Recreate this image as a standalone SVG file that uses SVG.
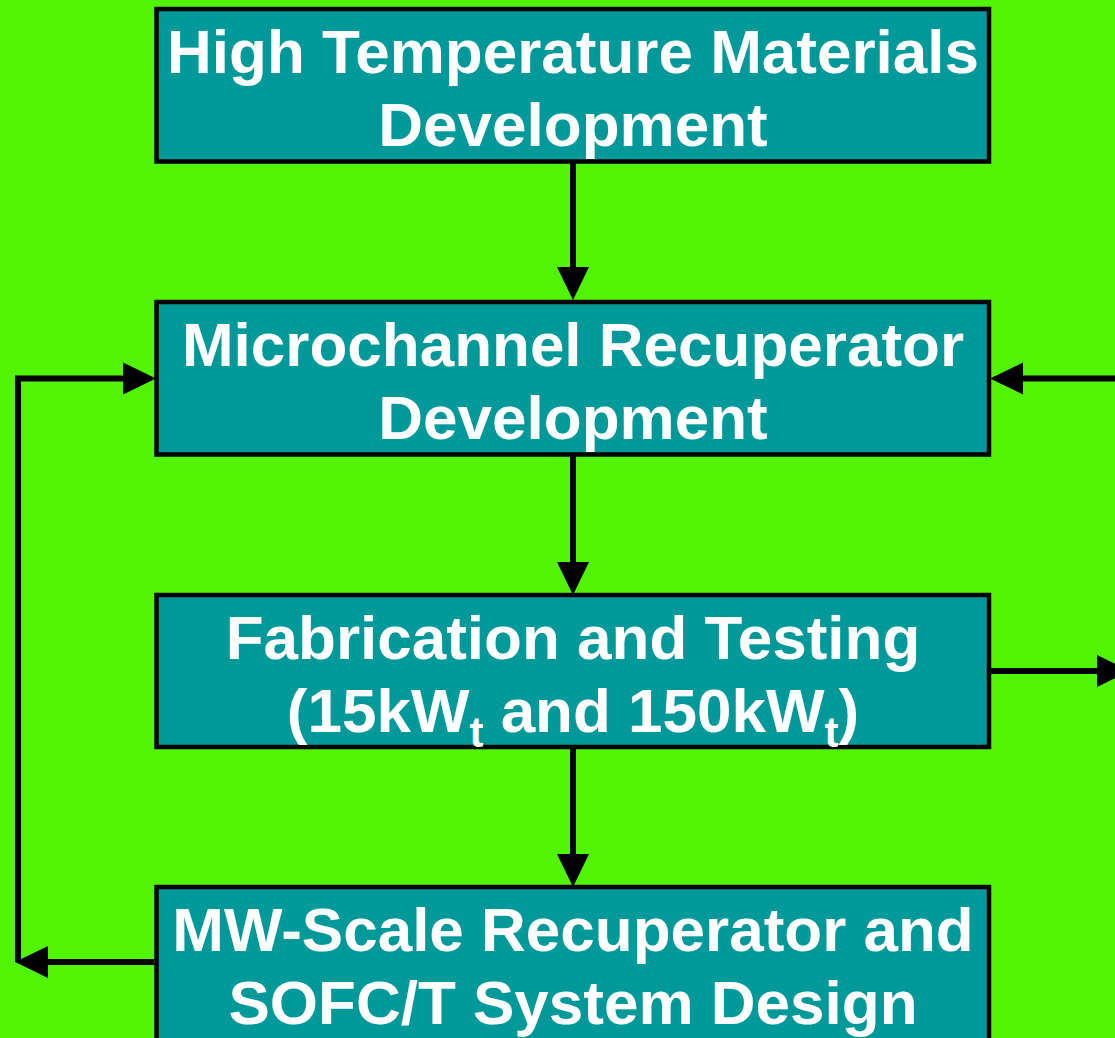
<svg xmlns="http://www.w3.org/2000/svg" width="1115" height="1038" viewBox="0 0 1115 1038">
<style>
.box{fill:#009999;stroke:#000;stroke-width:4.5}
.lbl{font-family:"Liberation Sans",Arial,sans-serif;font-weight:bold;font-size:62px;fill:#fff;text-anchor:middle}
.con{fill:none;stroke:#000;stroke-width:6;marker-end:url(#ah)}
</style>
<defs>
<marker id="ah" markerUnits="userSpaceOnUse" markerWidth="34" markerHeight="33" refX="0" refY="16" orient="auto" overflow="visible">
<path d="M0,0 L33,16 L0,32 z" fill="#000"/>
</marker>
</defs>
<rect width="1115" height="1038" fill="#52F406"/>
<g id="connectors">
<path class="con" d="M573,162 V267"/>
<path class="con" d="M573,455 V562"/>
<path class="con" d="M573,747 V854"/>
<path class="con" d="M991,671 H1097"/>
<path class="con" d="M1115,378.5 H1023"/>
<path class="con" d="M154,962 H48"/>
<path class="con" d="M18,962 V378.5 H123"/>
</g>
<g id="n1">
<rect class="box" x="156.5" y="9" width="832.5" height="152.5"/>
<text class="lbl" x="573" y="73">High Temperature Materials</text>
<text class="lbl" x="573" y="146">Development</text>
</g>
<g id="n2">
<rect class="box" x="156.5" y="302" width="832.5" height="152.5"/>
<text class="lbl" x="573" y="366">Microchannel Recuperator</text>
<text class="lbl" x="573" y="439">Development</text>
</g>
<g id="n3">
<rect class="box" x="156.5" y="595" width="832.5" height="152"/>
<text class="lbl" x="573" y="659">Fabrication and Testing</text>
<text class="lbl" x="573" y="732">(15kW<tspan font-size="42" dy="15">t</tspan><tspan dy="-15"> and 150kW</tspan><tspan font-size="42" dy="15">t</tspan><tspan dy="-15">)</tspan></text>
</g>
<g id="n4">
<rect class="box" x="156.5" y="887" width="832.5" height="160"/>
<text class="lbl" x="573" y="951">MW-Scale Recuperator and</text>
<text class="lbl" x="573" y="1024">SOFC/T System Design</text>
</g>
</svg>
